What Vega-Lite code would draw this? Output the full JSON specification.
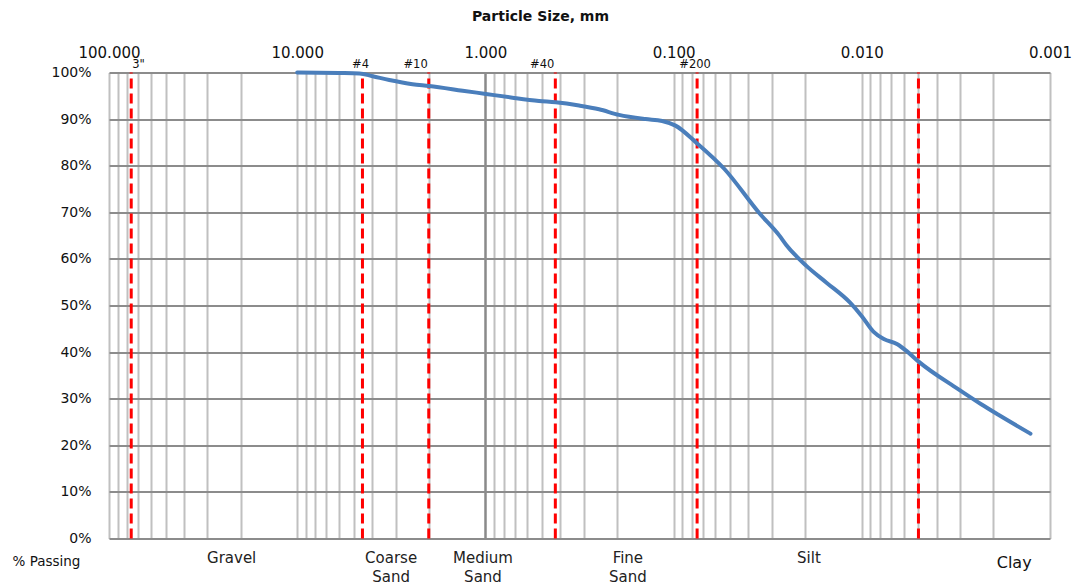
{
  "$schema": "https://vega.github.io/schema/vega-lite/v6.json",
  "width": 941,
  "height": 466,
  "autosize": {"type": "none"},
  "padding": {"left": 109, "top": 72.5, "right": 32, "bottom": 44.5},
  "background": "white",
  "config": {"view": {"stroke": null}, "font": "DejaVu Sans"},
  "datasets": {
    "curve": [
      {"size": 10.0, "pass": 100.0},
      {"size": 6.0, "pass": 99.9},
      {"size": 4.67, "pass": 99.8},
      {"size": 3.97, "pass": 99.2},
      {"size": 3.24, "pass": 98.4},
      {"size": 2.44, "pass": 97.5},
      {"size": 1.99, "pass": 97.1},
      {"size": 1.32, "pass": 96.1},
      {"size": 0.994, "pass": 95.4},
      {"size": 0.718, "pass": 94.6},
      {"size": 0.519, "pass": 93.9},
      {"size": 0.423, "pass": 93.6},
      {"size": 0.318, "pass": 92.9},
      {"size": 0.249, "pass": 92.1},
      {"size": 0.195, "pass": 90.9},
      {"size": 0.141, "pass": 90.0},
      {"size": 0.115, "pass": 89.6},
      {"size": 0.0977, "pass": 88.6},
      {"size": 0.076, "pass": 85.0},
      {"size": 0.054, "pass": 79.4},
      {"size": 0.035, "pass": 69.8},
      {"size": 0.0274, "pass": 65.0},
      {"size": 0.0252, "pass": 63.0},
      {"size": 0.0197, "pass": 58.5},
      {"size": 0.0154, "pass": 54.9},
      {"size": 0.01154, "pass": 50.6},
      {"size": 0.0100, "pass": 47.7},
      {"size": 0.00868, "pass": 44.4},
      {"size": 0.00764, "pass": 42.8},
      {"size": 0.00647, "pass": 41.7},
      {"size": 0.00573, "pass": 40.1},
      {"size": 0.00497, "pass": 37.9},
      {"size": 0.00309, "pass": 32.1},
      {"size": 0.00232, "pass": 28.8},
      {"size": 0.00189, "pass": 26.6},
      {"size": 0.00127, "pass": 22.5}
    ],
    "sieves": [
      {"size": 76.2, "label": "3\""},
      {"size": 4.5, "label": "#4"},
      {"size": 2.0, "label": "#10"},
      {"size": 0.425, "label": "#40"},
      {"size": 0.075, "label": "#200"},
      {"size": 0.005, "label": ""}
    ],
    "zones": [
      {"size": 22.3, "label": "Gravel"},
      {"size": 3.17, "label": "Coarse\nSand"},
      {"size": 1.03, "label": "Medium\nSand"},
      {"size": 0.175, "label": "Fine\nSand"},
      {"size": 0.0191, "label": "Silt"}
    ],
    "clay": [
      {"size": 0.00155, "label": "Clay"}
    ]
  },
  "encoding": {
    "x": {
      "field": "size",
      "type": "quantitative",
      "scale": {"type": "log", "domain": [0.001, 100], "reverse": true, "nice": false},
      "axis": {
        "orient": "top",
        "values": [0.001,0.002,0.003,0.004,0.005,0.006,0.007,0.008,0.009,0.01,0.02,0.03,0.04,0.05,0.06,0.07,0.08,0.09,0.1,0.2,0.3,0.4,0.5,0.6,0.7,0.8,0.9,1,2,3,4,5,6,7,8,9,10,20,30,40,50,60,70,80,90,100],
        "labelExpr": "abs(log(datum.value)/LN10 - round(log(datum.value)/LN10)) < 0.000001 ? format(datum.value, '.3f') : ''",
        "labelFont": "DejaVu Sans",
        "labelFontSize": 15,
        "labelColor": "#111111",
        "labelPadding": 12,
        "labelOverlap": false,
        "labelFlush": false,
        "labelBound": false,
        "ticks": false,
        "domain": false,
        "grid": true,
        "gridColor": {"condition": {"test": "abs(datum.value - 1) < 0.000001", "value": "#8a8a8a"}, "value": "#c0c0c0"},
        "gridWidth": {"condition": {"test": "abs(datum.value - 1) < 0.000001", "value": 2.5}, "value": 2},
        "title": "Particle Size, mm",
        "titleFont": "DejaVu Sans",
        "titleFontSize": 14,
        "titleFontWeight": "bold",
        "titleColor": "#111111",
        "titleX": 431,
        "titleY": -56,
        "titleAlign": "center",
        "titleBaseline": "middle"
      }
    }
  },
  "layer": [
    {
      "data": {"name": "sieves"},
      "mark": {"type": "rule", "color": "#ff0000", "strokeWidth": 3, "strokeDash": [10, 5]},
      "encoding": {
        "y": {"datum": 0, "type": "quantitative", "scale": {"domain": [0, 100], "nice": false}},
        "y2": {"datum": 100}
      }
    },
    {
      "data": {"name": "curve"},
      "mark": {"type": "line", "color": "#4a7ebb", "strokeWidth": 4, "interpolate": "monotone", "strokeCap": "round", "strokeJoin": "round"},
      "encoding": {
        "y": {
          "field": "pass",
          "type": "quantitative",
          "scale": {"domain": [0, 100], "nice": false},
          "axis": {
            "values": [0,5,10,15,20,25,30,35,40,45,50,55,60,65,70,75,80,85,90,95,100],
            "labelExpr": "datum.value % 10 == 0 ? datum.value + '%' : ''",
            "labelFont": "DejaVu Sans",
            "labelFontSize": 14,
            "labelColor": "#111111",
            "labelPadding": 18,
            "labelOverlap": false,
            "labelFlush": false,
            "labelBound": false,
            "ticks": false,
            "domain": false,
            "grid": true,
            "gridColor": {"condition": {"test": "datum.value % 10 == 0", "value": "#8c8c8c"}, "value": "#d0d0d0"},
            "gridWidth": 2,
            "title": "% Passing",
            "titleFont": "DejaVu Sans",
            "titleFontSize": 13.5,
            "titleFontWeight": "normal",
            "titleColor": "#111111",
            "titleAngle": 0,
            "titleX": -63,
            "titleY": 488.5,
            "titleAlign": "center",
            "titleBaseline": "middle"
          }
        }
      }
    },
    {
      "data": {"name": "sieves"},
      "transform": [{"filter": "datum.label == '3\"'"}],
      "mark": {"type": "text", "align": "left", "baseline": "alphabetic", "dx": 1, "dy": -5, "fontSize": 11.5, "color": "#111111"},
      "encoding": {"y": {"datum": 100}, "text": {"field": "label"}}
    },
    {
      "data": {"name": "sieves"},
      "transform": [{"filter": "datum.label == '#4' || datum.label == '#200'"}],
      "mark": {"type": "text", "align": "center", "baseline": "alphabetic", "dx": -2, "dy": -5, "fontSize": 11.5, "color": "#111111"},
      "encoding": {"y": {"datum": 100}, "text": {"field": "label"}}
    },
    {
      "data": {"name": "sieves"},
      "transform": [{"filter": "datum.label == '#10' || datum.label == '#40'"}],
      "mark": {"type": "text", "align": "right", "baseline": "alphabetic", "dx": -1, "dy": -5, "fontSize": 11.5, "color": "#111111"},
      "encoding": {"y": {"datum": 100}, "text": {"field": "label"}}
    },
    {
      "data": {"name": "zones"},
      "mark": {"type": "text", "align": "center", "baseline": "top", "dy": 12, "fontSize": 15, "lineHeight": 19, "lineBreak": "\n", "color": "#222222"},
      "encoding": {"y": {"datum": 0}, "text": {"field": "label"}}
    },
    {
      "data": {"name": "clay"},
      "mark": {"type": "text", "align": "center", "baseline": "top", "dy": 16, "fontSize": 16, "color": "#111111"},
      "encoding": {"y": {"datum": 0}, "text": {"field": "label"}}
    }
  ]
}
